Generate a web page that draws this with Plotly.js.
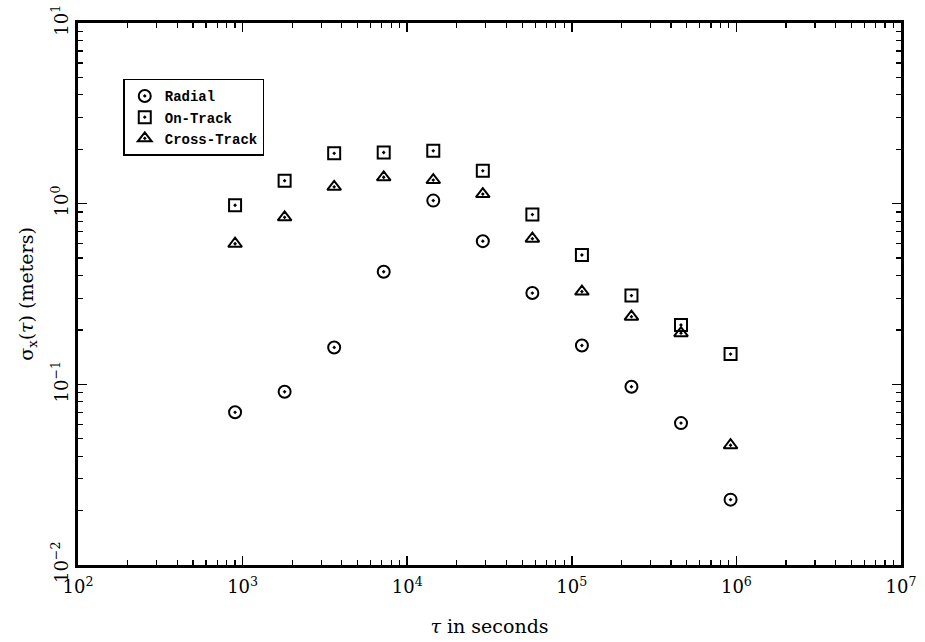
<!DOCTYPE html>
<html>
<head>
<meta charset="utf-8">
<script src="https://cdn.plot.ly/plotly-3.0.1.min.js"></script>
<style>html,body{margin:0;padding:0;background:#fff;}#chart{width:925px;height:642px;}</style>
</head>
<body>
<div id="chart"></div>
<script>
// Averaging time tau (seconds)
const tau = [900, 1800, 3600, 7200, 14400, 28800, 57600, 115200, 230400, 460800, 921600];
// Series values (meters)
const radial     = [0.070, 0.091, 0.160, 0.42, 1.04, 0.62, 0.32, 0.164, 0.097, 0.061, 0.023];
const onTrack    = [0.98, 1.34, 1.90, 1.92, 1.96, 1.52, 0.87, 0.52, 0.31, 0.213, 0.147];
const crossTrack = [0.60, 0.84, 1.24, 1.40, 1.35, 1.13, 0.64, 0.326, 0.237, 0.192, 0.046];
const seriesNames = ["Radial", "On-Track", "Cross-Track"];
// Tick labels
const xTickVals = [1e2, 1e3, 1e4, 1e5, 1e6, 1e7];
const xTickText = ["10<sup>2</sup>", "10<sup>3</sup>", "10<sup>4</sup>", "10<sup>5</sup>", "10<sup>6</sup>", "10<sup>7</sup>"];
const yTickVals = [1e-2, 1e-1, 1e0, 1e1];
const yTickText = ["10<sup>−2</sup>", "10<sup>−1</sup>", "10<sup>0</sup>", "10<sup>1</sup>"];

const serif = "DejaVu Serif, Liberation Serif, serif";
const mk = (sym) => ({symbol: sym, size: 12, color: "#000", line: {color: "#000", width: 2}});
const traces = [
  {x: tau, y: radial, name: seriesNames[0], mode: "markers", type: "scatter", marker: mk("circle-open-dot")},
  {x: tau, y: onTrack, name: seriesNames[1], mode: "markers", type: "scatter", marker: mk("square-open-dot")},
  {x: tau, y: crossTrack, name: seriesNames[2], mode: "markers", type: "scatter", marker: mk("triangle-up-open-dot")}
];
const axisCommon = {
  type: "log", showgrid: false, zeroline: false, showline: true, linecolor: "#000", linewidth: 2.8,
  mirror: "allticks", ticks: "inside", ticklen: 9, tickwidth: 1.5, tickcolor: "#000",
  tickfont: {family: serif, size: 18, color: "#000"},
  minor: {ticks: "inside", ticklen: 5, tickwidth: 1.2, tickcolor: "#000", dtick: "D1", showgrid: false}
};
const layout = {
  width: 925, height: 642,
  margin: {l: 78, r: 24, t: 23, b: 77},
  paper_bgcolor: "#fff", plot_bgcolor: "#fff",
  showlegend: true,
  legend: {x: 0.055, y: 0.897, xanchor: "left", yanchor: "top", bordercolor: "#000", borderwidth: 1.5,
           bgcolor: "#fff", font: {family: "Liberation Mono, DejaVu Sans Mono, monospace", size: 14, color: "#000", weight: "bold"},
           itemsizing: "constant", tracegroupgap: 0},
  xaxis: Object.assign({}, axisCommon, {
    range: [2, 7], tickmode: "array", tickvals: xTickVals, ticktext: xTickText, ticklabelstandoff: 4,
    title: {text: "<i>τ</i> in seconds", font: {family: serif, size: 19, color: "#000"}, standoff: 24}
  }),
  yaxis: Object.assign({}, axisCommon, {
    range: [-2, 1], tickmode: "array", tickvals: yTickVals, ticktext: yTickText, tickangle: -90,
    title: {text: "σ<sub>x</sub>(<i>τ</i>) (meters)", font: {family: serif, size: 19, color: "#000"}, standoff: 10}
  })
};
Plotly.newPlot("chart", traces, layout, {displayModeBar: false, staticPlot: true});
</script>
</body>
</html>
